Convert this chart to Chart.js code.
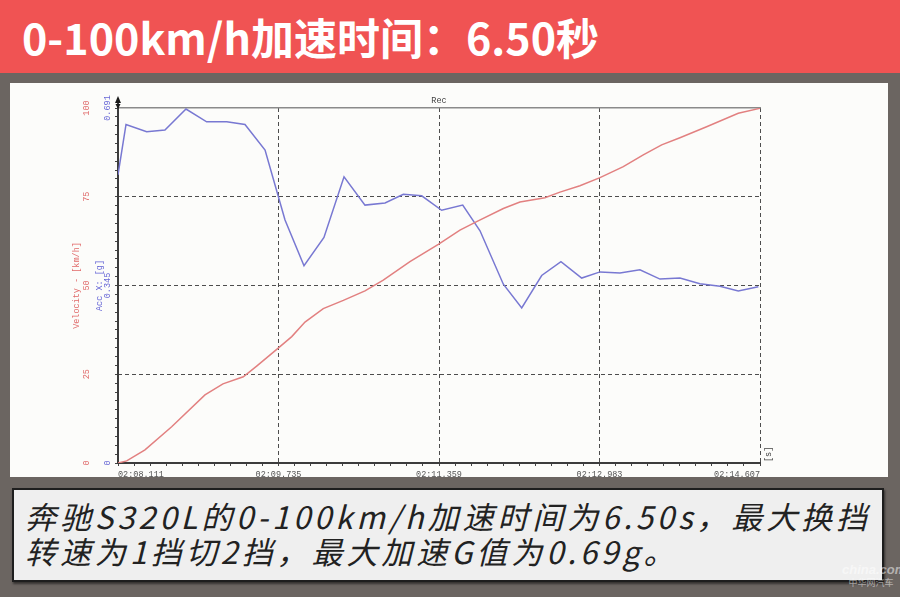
<!DOCTYPE html>
<html>
<head>
<meta charset="utf-8">
<script src="https://cdn.jsdelivr.net/npm/chart.js@4.4.1/dist/chart.umd.min.js"></script>
<style>
html, body { margin: 0; padding: 0; }
body {
    width: 900px; height: 597px; position: relative; overflow: hidden;
    background: #6b6561;
    font-family: "Noto Sans CJK SC", "Noto Sans", sans-serif;
}
.banner { position: absolute; left: 0; top: 0; width: 900px; height: 73px; background: #f05353; }
.banner h1 {
    position: absolute; left: 22px; top: 5px; margin: 0;
    color: #fff; font-size: 43px; font-weight: bold; line-height: 62px; white-space: nowrap;
}
.panel { position: absolute; left: 10px; top: 83px; width: 878px; height: 394px; background: #fcfcfa; }
.note {
    position: absolute; left: 12px; top: 488px; width: 872px; height: 94px;
    background: #efefef; border: 2px solid #1e1e1e; box-sizing: border-box;
    box-shadow: 1px 2px 2px rgba(0,0,0,0.5);
}
.note p {
    margin: 0; position: absolute; left: 11px; top: 8px;
    font-size: 31px; line-height: 35px; font-style: italic; color: #222; letter-spacing: 3.9px;
    white-space: nowrap;
}
.mark {
    position: absolute; left: 842px; top: 562px; width: 58px; text-align: center; white-space: nowrap;
    color: rgba(255,255,255,0.5); font-family: "Liberation Sans", sans-serif;
}
.mark b { display: block; font-size: 13px; line-height: 15px; font-style: italic; }
.mark span { display: block; font-size: 9px; line-height: 12px; font-family: "Noto Sans CJK SC", sans-serif; }
</style>
</head>
<body>
<div class="banner"><h1>0-100km/h加速时间：6.50秒</h1></div>
<div class="panel"><canvas id="chart" width="878" height="394"></canvas></div>
<div class="note"><p>奔驰S320L的0-100km/h加速时间为6.50s，最大换挡<br>转速为1挡切2挡，最大加速G值为0.69g。</p></div>
<div class="mark"><b>china.com</b><span>中华网汽车</span></div>

<script>
// 时间轴（秒，从 02:08.111 起算）
const timeSpan = 6.496;
const timeLabels = ['02:08.111', '02:09.735', '02:11.359', '02:12.983', '02:14.607'];

// 车速 km/h
const velTime = [0, 0.088, 0.273, 0.543, 0.880, 1.062, 1.268, 1.403, 1.606, 1.758, 1.892, 2.077, 2.280, 2.499, 2.684, 2.954,
    3.241, 3.460, 3.629, 3.899, 4.067, 4.320, 4.472, 4.674, 4.877, 5.113, 5.315, 5.501, 5.686, 5.956, 6.276, 6.496];
const velocity = [0, 0.6, 3.7, 10.2, 19.2, 22.3, 24.3, 27.3, 32.0, 35.6, 39.7, 43.5, 45.8, 48.5, 51.5, 56.7,
    61.6, 65.6, 68.0, 71.7, 73.5, 74.7, 76.3, 78.1, 80.4, 83.5, 86.8, 89.6, 91.6, 94.7, 98.5, 99.9];
const velTicks = [0, 25, 50, 75, 100];

// 纵向加速度 g
const accTime = [0, 0.081, 0.290, 0.475, 0.688, 0.897, 1.100, 1.285, 1.488, 1.690, 1.882, 2.084, 2.287, 2.499, 2.702, 2.887,
    3.073, 3.275, 3.488, 3.663, 3.899, 4.085, 4.287, 4.482, 4.692, 4.877, 5.079, 5.281, 5.484, 5.686, 5.888, 6.091, 6.276, 6.479];
const accX = [0.561, 0.659, 0.645, 0.648, 0.689, 0.664, 0.664, 0.659, 0.609, 0.473, 0.384, 0.439, 0.557, 0.502, 0.506, 0.523,
    0.520, 0.492, 0.502, 0.452, 0.348, 0.302, 0.365, 0.392, 0.360, 0.372, 0.370, 0.376, 0.358, 0.360, 0.349, 0.344, 0.335, 0.343];
const accMax = 0.691;
const accTickLabels = ['0', '0.345', '0.691'];

const red = '#e06a6a';
const blue = '#6767d6';
const gridColor = '#4d4d4d';
const mono = { family: '"Liberation Mono", "DejaVu Sans Mono", monospace', size: 8.5 };

// 每个主刻度之间 10 个小刻度
function minorTicks(max, n) {
    const out = [];
    for (let i = 0; i <= n; i++) out.push({ value: max * i / n });
    return out;
}

// 纵轴顶端箭头和 [s] 单位
const extras = {
    id: 'extras',
    afterDraw(chart) {
        const { ctx, chartArea: a } = chart;
        ctx.save();
        ctx.fillStyle = '#1a1a1a';
        ctx.strokeStyle = '#3c3c3c';
        ctx.lineWidth = 2;
        ctx.beginPath();
        ctx.moveTo(a.left, a.top);
        ctx.lineTo(a.left, a.top - 6);
        ctx.stroke();
        ctx.beginPath();
        ctx.moveTo(a.left, a.top - 12);
        ctx.lineTo(a.left - 3, a.top - 5);
        ctx.lineTo(a.left + 3, a.top - 5);
        ctx.closePath();
        ctx.fill();
        ctx.beginPath();
        ctx.moveTo(a.left, a.top + 1);
        ctx.lineTo(a.left - 2.5, a.top - 4);
        ctx.lineTo(a.left + 2.5, a.top - 4);
        ctx.closePath();
        ctx.fill();
        ctx.translate(a.right + 9, a.bottom - 1);
        ctx.rotate(-Math.PI / 2);
        ctx.font = '8.5px "Liberation Mono", monospace';
        ctx.fillStyle = '#444';
        ctx.textBaseline = 'middle';
        ctx.fillText('[s]', 0, 0);
        ctx.restore();
    }
};

const ctx = document.getElementById('chart').getContext('2d');
new Chart(ctx, {
    type: 'line',
    data: {
        datasets: [{
            label: 'Velocity',
            data: velTime.map((t, i) => ({ x: t, y: velocity[i] })),
            xAxisID: 'x',
            yAxisID: 'vel',
            borderColor: '#e28080',
            borderWidth: 1.5,
            pointRadius: 0,
            tension: 0
        }, {
            label: 'Acc X',
            data: accTime.map((t, i) => ({ x: t, y: accX[i] })),
            xAxisID: 'x',
            yAxisID: 'acc',
            borderColor: '#7878d2',
            borderWidth: 1.5,
            pointRadius: 0,
            tension: 0
        }]
    },
    options: {
        responsive: false,
        animation: false,
        devicePixelRatio: 1,
        layout: { padding: { left: 62, right: 128, top: 0, bottom: 0 } },
        plugins: {
            legend: { display: false },
            tooltip: { enabled: false }
        },
        scales: {
            x: {
                type: 'linear',
                position: 'bottom',
                min: 0,
                max: timeSpan,
                afterBuildTicks: s => { s.ticks = minorTicks(timeSpan, 40); },
                afterFit: s => { s.height = 14; },
                ticks: {
                    autoSkip: false, maxRotation: 0, align: 'inner', padding: 4,
                    color: '#555', font: mono,
                    callback: (v, i) => i % 10 === 0 ? timeLabels[i / 10] : ''
                },
                grid: {
                    color: c => (c.index % 10 === 0 && c.index > 0) ? gridColor : 'transparent',
                    lineWidth: 1,
                    tickColor: '#444',
                    tickLength: 3,
                    tickBorderDash: []
                },
                border: { color: '#3c3c3c', width: 2, dash: [4, 3] }
            },
            xTop: {
                type: 'linear',
                position: 'top',
                min: 0,
                max: timeSpan,
                afterFit: s => { s.height = 25; },
                ticks: { display: false },
                grid: { drawOnChartArea: false, drawTicks: false },
                border: { color: '#8a8a8a', width: 1.5 },
                title: { display: true, text: 'Rec', color: '#444', font: mono, padding: { top: 13, bottom: 0 } }
            },
            vel: {
                position: 'left',
                weight: 2,
                min: 0,
                max: 100,
                afterBuildTicks: s => { s.ticks = velTicks.map(v => ({ value: v })); },
                afterFit: s => { s.width = 23; },
                ticks: { minRotation: 90, maxRotation: 90, crossAlign: 'center', padding: 1, autoSkip: false, color: red, font: mono },
                grid: {
                    drawTicks: false,
                    lineWidth: 1,
                    color: c => (c.tick && c.tick.value > 0 && c.tick.value < 100) ? gridColor : 'transparent'
                },
                border: { display: false, dash: [4, 3] },
                title: { display: true, text: 'Velocity - [km/h]', color: red, font: mono, padding: 0 }
            },
            acc: {
                position: 'left',
                weight: 1,
                min: 0,
                max: accMax,
                afterBuildTicks: s => { s.ticks = minorTicks(accMax, 40); },
                afterFit: s => { s.width = 23; },
                ticks: {
                    minRotation: 90, maxRotation: 90, crossAlign: 'center', padding: -6, autoSkip: false,
                    color: blue, font: mono,
                    callback: (v, i) => i % 20 === 0 ? accTickLabels[i / 20] : ''
                },
                grid: { drawOnChartArea: false, tickLength: 3, tickColor: '#444', tickBorderDash: [] },
                border: { color: '#3c3c3c', width: 2 },
                title: { display: true, text: 'Acc X: [g]', color: blue, font: mono, padding: 0 }
            }
        }
    },
    plugins: [extras]
});
</script>
</body>
</html>
